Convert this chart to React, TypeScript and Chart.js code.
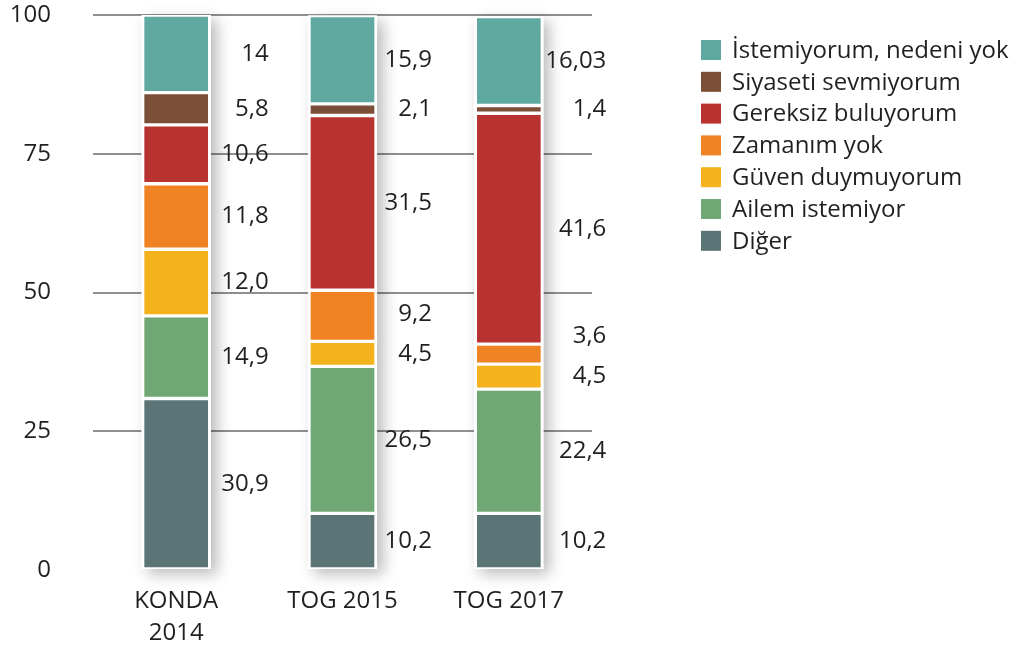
import { useEffect, useRef } from "react";
import { Chart, registerables } from "chart.js";
Chart.register(...registerables);

const categories: (string | string[])[] = [["KONDA", "2014"], "TOG 2015", "TOG 2017"];
const seriesNames = [
  "Diğer",
  "Ailem istemiyor",
  "Güven duymuyorum",
  "Zamanım yok",
  "Gereksiz buluyorum",
  "Siyaseti sevmiyorum",
  "İstemiyorum, nedeni yok",
];
const diger = ["30.9", "10.2", "10.2"];
const ailem = ["14.9", "26.5", "22.4"];
const guven = ["12.0", "4.5", "4.5"];
const zaman = ["11.8", "9.2", "3.6"];
const gereksiz = ["10.6", "31.5", "41.6"];
const siyaset = ["5.8", "2.1", "1.4"];
const istemiyorum = ["14", "15.9", "16.03"];
const yMin = 0;
const yMax = 100;
const yStep = 25;

const seriesValues = [diger, ailem, guven, zaman, gereksiz, siyaset, istemiyorum];
const colors = ["#5b7476", "#6fa874", "#f4b21d", "#ef8223", "#b83230", "#7a4e37", "#5fa9a0"];

const FONT = "'Open Sans', 'DejaVu Sans', sans-serif";
const FSIZE = 24;
const TEXT = "#231f20";
const labelOffsets = [58, 55, 63];

const shadowPlugin = {
  id: "barShadow",
  beforeDatasetsDraw(chart: any) {
    const ctx = chart.ctx;
    const n = chart.data.datasets.length;
    const first = chart.getDatasetMeta(0);
    const last = chart.getDatasetMeta(n - 1);
    first.data.forEach((el: any, i: number) => {
      const top = last.data[i].y;
      const base = el.base;
      const w = el.width;
      ctx.save();
      ctx.shadowColor = "rgba(0,0,0,0.28)";
      ctx.shadowBlur = 14;
      ctx.shadowOffsetX = 6;
      ctx.shadowOffsetY = 5;
      ctx.fillStyle = "#ffffff";
      ctx.fillRect(el.x - w / 2, top, w, base - top);
      ctx.restore();
    });
  },
};

const valueLabelPlugin = {
  id: "valueLabels",
  afterDatasetsDraw(chart: any) {
    const ctx = chart.ctx;
    const n = chart.data.datasets.length;
    const count = chart.data.labels.length;
    ctx.save();
    ctx.font = `${FSIZE}px ${FONT}`;
    ctx.fillStyle = TEXT;
    ctx.textAlign = "right";
    ctx.textBaseline = "middle";
    for (let i = 0; i < count; i++) {
      let prevY = Infinity;
      for (let d = 0; d < n; d++) {
        const el: any = chart.getDatasetMeta(d).data[i];
        let y = (el.y + el.base) / 2;
        if (y > prevY - 40) y = prevY - 40;
        prevY = y;
        const txt = seriesValues[d][i].replace(".", ",");
        ctx.fillText(txt, el.x + el.width / 2 + labelOffsets[i], y);
      }
    }
    ctx.restore();
  },
};

const legendPlugin = {
  id: "customLegend",
  afterDraw(chart: any) {
    const ctx = chart.ctx;
    const ds = chart.data.datasets.slice().reverse();
    ctx.save();
    ctx.font = `${FSIZE}px ${FONT}`;
    ctx.textBaseline = "middle";
    ctx.textAlign = "left";
    ds.forEach((d: any, k: number) => {
      const cy = 50 + k * 31.8;
      ctx.fillStyle = d.backgroundColor;
      ctx.fillRect(701, cy - 10, 20, 20);
      ctx.fillStyle = TEXT;
      ctx.fillText(d.label, 732, cy + 1);
    });
    ctx.restore();
  },
};

export default function App() {
  const ref = useRef<HTMLCanvasElement>(null);
  useEffect(() => {
    if (!ref.current) return;
    const chart = new Chart(ref.current, {
      type: "bar",
      data: {
        labels: categories,
        datasets: seriesNames.map((name, k) => ({
          label: name,
          data: seriesValues[k].map(Number),
          backgroundColor: colors[k],
          borderColor: "#ffffff",
          borderWidth: { top: 2, bottom: 2, left: 3, right: 3 },
          borderSkipped: false,
          barThickness: 69,
        })),
      },
      options: {
        animation: false,
        responsive: false,
        layout: { padding: { left: 0, right: 424, top: 15, bottom: 0 } },
        plugins: { legend: { display: false }, tooltip: { enabled: false } },
        scales: {
          x: {
            stacked: true,
            grid: { display: false, drawTicks: false },
            border: { display: false },
            ticks: {
              padding: 16,
              color: TEXT,
              font: { family: FONT, size: FSIZE, lineHeight: 1.3 },
              maxRotation: 0,
            },
            afterFit: (s: any) => {
              s.height = 77;
            },
          },
          y: {
            stacked: true,
            min: yMin,
            max: yMax,
            grid: {
              color: (c: any) => (c.tick && c.tick.value === 0 ? "rgba(0,0,0,0)" : "#8f8f8f"),
              lineWidth: 2,
              drawTicks: false,
            },
            border: { display: false },
            ticks: {
              stepSize: yStep,
              padding: 42,
              color: TEXT,
              font: { family: FONT, size: FSIZE },
            },
            afterFit: (s: any) => {
              s.width = 93;
              s.paddingTop = 0;
              s.paddingBottom = 0;
            },
          },
        },
      },
      plugins: [shadowPlugin, valueLabelPlugin, legendPlugin],
    });
    return () => chart.destroy();
  }, []);
  return (
    <div style={{ position: "fixed", left: 0, top: 0, width: 1016, height: 647, background: "#fff" }}>
      <canvas ref={ref} width={1016} height={647} />
    </div>
  );
}
